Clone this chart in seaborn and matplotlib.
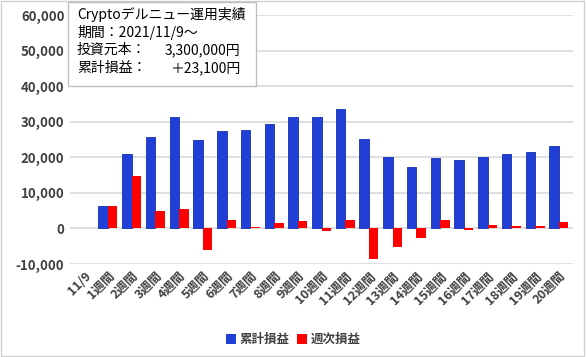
import matplotlib
matplotlib.use("Agg")
import matplotlib.pyplot as plt
import seaborn as sns
import pandas as pd
from matplotlib.patches import Rectangle

categories = ["11/9"] + [f"{i}週間" for i in range(1, 21)]
cumulative = [0, 6200, 20900, 25800, 31200, 25000, 27300, 27800, 29300, 31400,
              31200, 33700, 25100, 20000, 17200, 19700, 19300, 20200, 20800, 21400, 23100]
weekly = [0, 6200, 14700, 4900, 5400, -6200, 2300, 500, 1500, 2100,
          -600, 2500, -8600, -5100, -2800, 2500, -400, 900, 600, 600, 1700]
series_names = ["累計損益", "週次損益"]
yticks = [-10000, 0, 10000, 20000, 30000, 40000, 50000, 60000]

box_title = "Cryptoデルニュー運用実績"
box_rows = [("期間：2021/11/9～", ""), ("投資元本：", "3,300,000円"), ("累計損益：", "＋23,100円")]

sns.set_theme(style="white")
plt.rcParams['font.family'] = ['Noto Sans CJK JP', 'DejaVu Sans']

df = pd.DataFrame({
    "cat": categories * 2,
    "val": cumulative + weekly,
    "series": [series_names[0]] * len(categories) + [series_names[1]] * len(categories),
})

fig = plt.figure(figsize=(5.86, 3.57), dpi=100)
ax = fig.add_axes([70/586, 1-264/357, (573-70)/586, (264-15)/357])

palette = {series_names[0]: "#1F3FD6", series_names[1]: "#FF0000"}
sns.barplot(data=df, x="cat", y="val", hue="series", palette=palette, ax=ax,
            width=0.8, saturation=1, legend=True, zorder=3, linewidth=0)
n = len(categories)
for bar in ax.patches[:n]:
    if bar.get_height() != 0:
        bar.set_edgecolor("#1530B0")
        bar.set_linewidth(0.6)
for bar in ax.patches[n:2*n]:
    bar.set_edgecolor("none")
    bar.set_linewidth(0)

ax.set_ylim(-10000, 60000)
ax.set_yticks(yticks)
ax.set_yticklabels([f"{v:,}" for v in yticks], fontsize=9.5, fontweight="bold", color="#404040")
ax.set_xticks(range(n))
ax.set_xticklabels(categories, rotation=45, ha="right", rotation_mode="anchor",
                   fontsize=9, fontweight="bold", color="#404040")
ax.set_xlim(-0.6, n - 0.4)
ax.set_xlabel("")
ax.set_ylabel("")
ax.grid(axis="y", color="#D9D9D9", linewidth=1.2, zorder=0)
ax.tick_params(axis="both", length=0, pad=4)
for s in ax.spines.values():
    s.set_visible(False)

leg = ax.legend(loc="lower center", bbox_to_anchor=(0.5 - (70 + (573-70)/2 - 293)/503, -0.375),
                ncol=2, frameon=False, fontsize=9, handlelength=0.8, handleheight=0.8,
                columnspacing=0.6, handletextpad=0.3)
for t in leg.get_texts():
    t.set_fontweight("bold")
    t.set_color("#404040")
for h in leg.legend_handles:
    h.set_edgecolor("none")

# info box
fig.patches.append(Rectangle((68/586, 1-86/357), (256-68)/586, (86-2)/357,
                             transform=fig.transFigure, facecolor="white",
                             edgecolor="#BFBFBF", linewidth=1, zorder=5))
fs = 10
fig.text(77/586, 1-15/357, box_title, fontsize=fs, va="center", ha="left", color="#000000", zorder=6)
ys = [32, 50, 68]
for (lab, val), y in zip(box_rows, ys):
    fig.text(77/586, 1-y/357, lab, fontsize=fs, va="center", ha="left", color="#000000", zorder=6)
    if val:
        fig.text(240/586, 1-y/357, val, fontsize=fs, va="center", ha="right", color="#000000", zorder=6)

fig.patches.append(Rectangle((0.002, 0.003), 0.995, 0.994, transform=fig.transFigure,
                             facecolor="none", edgecolor="#D0D0D0", linewidth=1))

fig.savefig("out.png", dpi=100)
